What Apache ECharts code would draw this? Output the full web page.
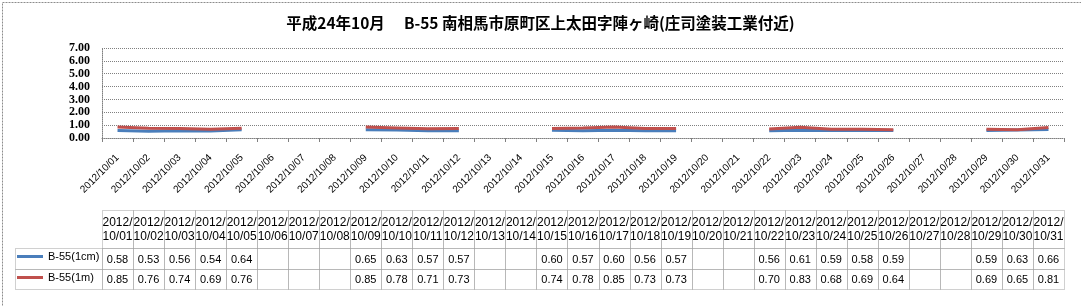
<!DOCTYPE html>
<html><head><meta charset="utf-8">
<script src="https://cdn.jsdelivr.net/npm/echarts@6/dist/echarts.min.js"></script>
<style>html,body{margin:0;padding:0;background:#fff}#c{width:1081px;height:306px}</style>
</head><body><div id="c"></div>
<script>
const titleText = '平成24年10月\u3000 B-55 南相馬市原町区上太田字陣ヶ崎(庄司塗装工業付近)';
const categories = ['2012/10/01','2012/10/02','2012/10/03','2012/10/04','2012/10/05','2012/10/06','2012/10/07','2012/10/08','2012/10/09','2012/10/10','2012/10/11','2012/10/12','2012/10/13','2012/10/14','2012/10/15','2012/10/16','2012/10/17','2012/10/18','2012/10/19','2012/10/20','2012/10/21','2012/10/22','2012/10/23','2012/10/24','2012/10/25','2012/10/26','2012/10/27','2012/10/28','2012/10/29','2012/10/30','2012/10/31'];
const seriesNames = ['B-55(1cm)', 'B-55(1m)'];
const s1cm = [0.58,0.53,0.56,0.54,0.64,null,null,null,0.65,0.63,0.57,0.57,null,null,0.60,0.57,0.60,0.56,0.57,null,null,0.56,0.61,0.59,0.58,0.59,null,null,0.59,0.63,0.66];
const s1m  = [0.85,0.76,0.74,0.69,0.76,null,null,null,0.85,0.78,0.71,0.73,null,null,0.74,0.78,0.85,0.73,0.73,null,null,0.70,0.83,0.68,0.69,0.64,null,null,0.69,0.65,0.81];
const yMin = 0, yMax = 7, yStep = 1;

const BLUE = '#4A7EBB', RED = '#C0504D', GRID = '#808080', CELL = '#a0a0a0';
const tableRows = [0, 37.5, 58.5, 79]; // table row boundaries (px within table grid)
const seriesVals = [s1cm, s1m];

const chart = echarts.init(document.getElementById('c'), null, {renderer: 'canvas'});

function renderCell(params, api) {
  const i = params.dataIndex;
  const c = api.coord([i, 0]);
  const w = api.size([1, 0])[0];
  const xL = Math.round(c[0] - w / 2) + 0.5;
  const xR = Math.round(c[0] + w / 2) + 0.5;
  const ys = tableRows.map(r => Math.round(api.coord([i, r])[1]) + 0.5);
  const children = [];
  const lineStyle = {stroke: CELL, lineWidth: 1, lineDash: [1, 1], fill: null};
  for (let r = 0; r < 3; r++) {
    children.push({type: 'rect', shape: {x: xL, y: ys[r], width: xR - xL, height: ys[r + 1] - ys[r]}, style: lineStyle});
  }
  const cat = categories[i];
  const p1 = cat.slice(0, 5), p2 = cat.slice(5);
  const hMid = (ys[0] + ys[1]) / 2;
  children.push({type: 'text', style: {x: c[0], y: hMid - 6.5, text: p1, align: 'center', verticalAlign: 'middle', font: '12px "Liberation Sans"', fill: '#000'}});
  children.push({type: 'text', style: {x: c[0], y: hMid + 7, text: p2, align: 'center', verticalAlign: 'middle', font: '12px "Liberation Sans"', fill: '#000'}});
  for (let s = 0; s < 2; s++) {
    const v = seriesVals[s][i];
    if (v !== null && v !== undefined) {
      children.push({type: 'text', style: {x: c[0], y: (ys[s + 1] + ys[s + 2]) / 2 + 0.5, text: v.toFixed(2), align: 'center', verticalAlign: 'middle', font: '11px "Liberation Sans"', fill: '#000'}});
    }
  }
  if (i === 0) {
    const lx = 15.5;
    for (let r = 1; r < 3; r++) {
      children.push({type: 'rect', shape: {x: lx, y: ys[r], width: xL - lx, height: ys[r + 1] - ys[r]}, style: lineStyle});
    }
  }
  return {type: 'group', children};
}

const option = {
  backgroundColor: '#fff',
  animation: false,
  title: {
    text: titleText, left: 'center', top: 10,
    textStyle: {fontFamily: '"Noto Sans CJK JP"', fontSize: 15.5, fontWeight: 'bold', color: '#000'}
  },
  legend: [
    {data: [seriesNames[0]], left: 17, top: 251, padding: 0, icon: 'rect', itemWidth: 26, itemHeight: 3,
     textStyle: {fontFamily: '"Liberation Sans"', fontSize: 11, color: '#000'}, selectedMode: false},
    {data: [seriesNames[1]], left: 17, top: 272, padding: 0, icon: 'rect', itemWidth: 26, itemHeight: 3,
     textStyle: {fontFamily: '"Liberation Sans"', fontSize: 11, color: '#000'}, selectedMode: false}
  ],
  grid: [
    {left: 102, right: 17, top: 48, height: 90, containLabel: false},
    {left: 102, right: 17, top: 210, height: 79, containLabel: false}
  ],
  xAxis: [
    {type: 'category', gridIndex: 0, data: categories, boundaryGap: true,
     axisLine: {lineStyle: {color: GRID, type: 'dotted', width: 1}},
     axisTick: {show: true, length: 4, lineStyle: {color: GRID}},
     axisLabel: {rotate: 45, interval: 0, margin: 18, fontFamily: '"Liberation Sans"', fontSize: 10, color: '#000'}},
    {type: 'category', gridIndex: 1, data: categories, boundaryGap: true, show: false}
  ],
  yAxis: [
    {type: 'value', gridIndex: 0, min: yMin, max: yMax, interval: yStep,
     axisLine: {show: true, lineStyle: {color: GRID, type: 'dotted'}},
     axisTick: {show: false},
     splitLine: {lineStyle: {color: GRID, type: 'dotted', width: 1}},
     axisLabel: {margin: 12, formatter: v => v.toFixed(2), fontFamily: '"Liberation Serif"', fontSize: 12, fontWeight: 'bold', color: '#000'}},
    {type: 'value', gridIndex: 1, min: 0, max: 79, inverse: true, show: false}
  ],
  series: [
    {name: seriesNames[0], type: 'line', xAxisIndex: 0, yAxisIndex: 0, data: s1cm, showSymbol: false, symbol: 'none',
     connectNulls: false, color: BLUE, lineStyle: {width: 3, color: BLUE}},
    {name: seriesNames[1], type: 'line', xAxisIndex: 0, yAxisIndex: 0, data: s1m, showSymbol: false, symbol: 'none',
     connectNulls: false, color: RED, lineStyle: {width: 3, color: RED}},
    {type: 'custom', xAxisIndex: 1, yAxisIndex: 1, clip: false, silent: true,
     data: categories.map((c, i) => [i, 0]), encode: {x: 0, y: 1}, renderItem: renderCell}
  ],
  graphic: [
    {type: 'rect', left: 0, top: 0, silent: true, z: 100,
     shape: {x: 0.5, y: 0.5, width: 1079, height: 304},
     style: {fill: null, stroke: '#8c8c8c', lineWidth: 1, lineDash: [2, 1]}}
  ]
};
chart.setOption(option);
</script></body></html>
